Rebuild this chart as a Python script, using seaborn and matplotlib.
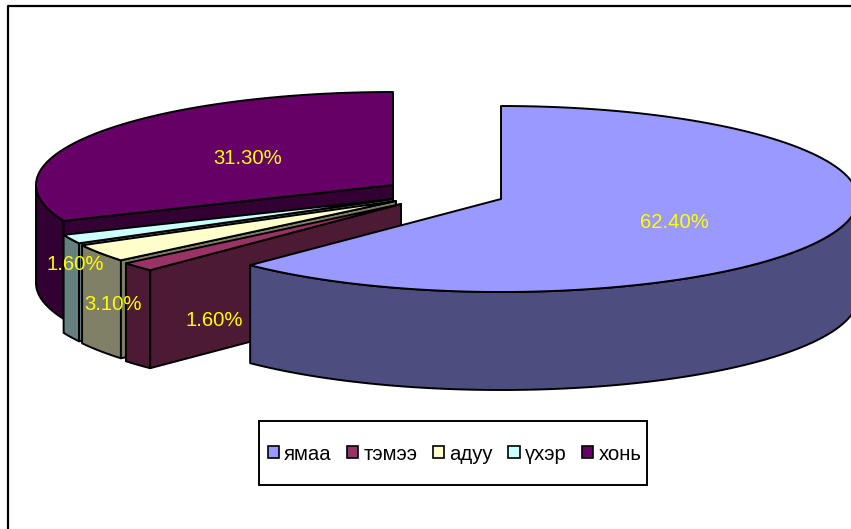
import numpy as np
import seaborn as sns
import matplotlib.pyplot as plt
from matplotlib.patches import Patch, Rectangle

# data
names = ["ямаа", "тэмээ", "адуу", "үхэр", "хонь"]
shares = [62.4, 1.6, 3.1, 1.6, 31.3]
colors = ["#9999FF", "#993366", "#FFFFCC", "#CCFFFF", "#660066"]

# layout, in pixels of the picture
apex_x = [501, 401, 396, 393, 393]
apex_y = [199, 204, 201, 199, 185]
label_x = [674, 214, 113, 75, 248]
label_y = [222, 320, 304, 265, 158]
rx, ry, depth = 357, 93, 98

sns.set_theme(style="white")
plt.rcParams["font.family"] = ["Liberation Sans", "DejaVu Sans"]
palette = sns.color_palette(colors)

fig = plt.figure(figsize=(8.51, 5.29), dpi=100)
ax = fig.add_axes([0, 0, 1, 1])
ax.set_xlim(0, 851)
ax.set_ylim(529, 0)
ax.axis("off")

# chart frame, only top and left are inside the picture
ax.plot([8, 8, 851], [529, 6, 6], color="black", lw=1.6)


def arc(cx, cy, a0, a1):
    # angles are degrees clockwise from 12 o'clock
    t = np.radians(np.linspace(a0, a1, 120))
    return cx + rx * np.sin(t), cy - ry * np.cos(t)


edges = np.concatenate([[0], np.cumsum(shares)]) * 3.6
line = dict(edgecolor="black", lw=1.4, joinstyle="round")

# back to front so the nearer slices cover the others
for i in [4, 3, 2, 1, 0]:
    a0, a1 = edges[i], edges[i + 1]
    cx, cy = apex_x[i], apex_y[i]
    top = palette[i]
    side = tuple(c * 0.5 for c in top)

    # outer wall, only the part that faces the viewer
    w0, w1 = max(a0, 90), min(a1, 270)
    if w0 < w1:
        x, y = arc(cx, cy, w0, w1)
        ax.fill(np.r_[x, x[::-1]], np.r_[y, y[::-1] + depth], facecolor=side, **line)

    # cut face at the start of the slice
    if i > 0:
        x, y = arc(cx, cy, a0, a0)
        ax.fill([cx, x[0], x[0], cx], [cy, y[0], y[0] + depth, cy + depth], facecolor=side, **line)

    # top face
    x, y = arc(cx, cy, a0, a1)
    ax.fill(np.r_[cx, x], np.r_[cy, y], facecolor=top, **line)

for i, name in enumerate(names):
    ax.text(label_x[i], label_y[i], f"{shares[i]:.2f}%", color="#FFFF00", fontsize=14.6,
            ha="center", va="center")

# legend padding differs in x and y, so the box is drawn apart
ax.add_patch(Rectangle((259, 421), 388, 64, facecolor="white", edgecolor="black", lw=1.4))
handles = [Patch(facecolor=palette[i], edgecolor="black", lw=1.2, label=names[i]) for i in range(5)]
ax.legend(handles=handles, ncol=5, loc="center", bbox_to_anchor=(454.5, 454),
          bbox_transform=ax.transData, fontsize=14.6, frameon=False, borderpad=0, borderaxespad=0,
          handlelength=0.55, handleheight=0.55, handletextpad=0.25, columnspacing=0.77,
          labelspacing=0, labelcolor="black")

plt.savefig("out.png", dpi=100)
